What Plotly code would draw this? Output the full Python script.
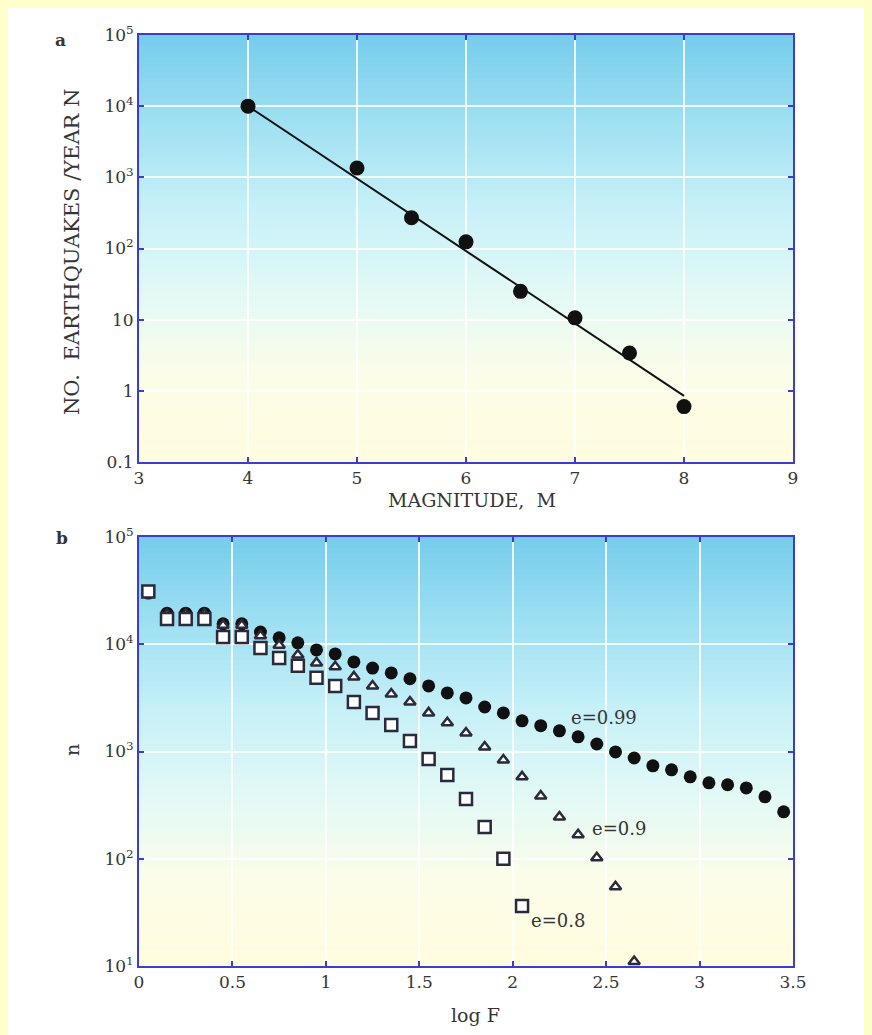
import plotly.graph_objects as go

# ---------------- data ----------------
# panel a
magnitude = [4, 5, 5.5, 6, 6.5, 7, 7.5, 8]
quakes_per_year = [10000, 1350, 270, 124, 25, 10.6, 3.4, 0.6]
fit_magnitude = [4, 8]
fit_quakes = [10000, 0.85]

a_xticks = [3, 4, 5, 6, 7, 8, 9]
a_yticks = [0.1, 1, 10, 100, 1000, 10000, 100000]
a_yticktext = ["0.1", "1", "10", "10<sup>2</sup>", "10<sup>3</sup>", "10<sup>4</sup>", "10<sup>5</sup>"]

# panel b
logF_099 = [0.05, 0.15, 0.25, 0.35, 0.45, 0.55, 0.65, 0.75, 0.85, 0.95, 1.05, 1.15,
            1.25, 1.35, 1.45, 1.55, 1.65, 1.75, 1.85, 1.95, 2.05, 2.15, 2.25, 2.35,
            2.45, 2.55, 2.65, 2.75, 2.85, 2.95, 3.05, 3.15, 3.25, 3.35, 3.45]
n_099 = [30000, 19500, 19500, 19500, 15500, 15500, 13000, 11500, 10300, 8850, 8130, 6840,
         6000, 5400, 4770, 4090, 3515, 3160, 2600, 2290, 1930, 1740, 1560, 1370,
         1175, 990, 870, 735, 675, 580, 510, 490, 457, 378, 274]

logF_09 = [0.05, 0.15, 0.25, 0.35, 0.45, 0.55, 0.65, 0.75, 0.85, 0.95, 1.05, 1.15,
           1.25, 1.35, 1.45, 1.55, 1.65, 1.75, 1.85, 1.95, 2.05, 2.15, 2.25, 2.35,
           2.45, 2.55, 2.65]
n_09 = [30000, 19000, 19000, 19000, 15000, 15000, 12000, 9800, 7940, 6700, 6160, 4960,
        4080, 3440, 2890, 2290, 1850, 1490, 1100, 834, 580, 385, 245, 167,
        102, 54.7, 11]

logF_08 = [0.05, 0.15, 0.25, 0.35, 0.45, 0.55, 0.65, 0.75, 0.85, 0.95, 1.05, 1.15,
           1.25, 1.35, 1.45, 1.55, 1.65, 1.75, 1.85, 1.95, 2.05]
n_08 = [31000, 17200, 17200, 17200, 11700, 11700, 9250, 7450, 6300, 4860, 4080, 2900,
        2290, 1770, 1255, 853, 605, 361, 198, 99.8, 36.3]

b_xticks = [0, 0.5, 1, 1.5, 2, 2.5, 3, 3.5]
b_xticktext = ["0", "0.5", "1", "1.5", "2", "2.5", "3", "3.5"]
b_yticks = [10, 100, 1000, 10000, 100000]
b_yticktext = ["10<sup>1</sup>", "10<sup>2</sup>", "10<sup>3</sup>", "10<sup>4</sup>", "10<sup>5</sup>"]

series_labels = ["e=0.99", "e=0.9", "e=0.8"]

# ---------------- styling ----------------
OFF = 8                      # browser body margin
W, H = 872 - OFF, 1035 - OFF
SERIF = "DejaVu Serif"
TXT = "#353535"
FRAME = "#3c3cd2"

def px(x):
    return (x - OFF) / W

def py(y):
    return 1 - (y - OFF) / H

fig = go.Figure()

# panel a
fig.add_trace(go.Scatter(x=fit_magnitude, y=fit_quakes, mode="lines",
                         line=dict(color="#111111", width=2), xaxis="x", yaxis="y",
                         showlegend=False, hoverinfo="skip"))
fig.add_trace(go.Scatter(x=magnitude, y=quakes_per_year, mode="markers",
                         marker=dict(symbol="circle", size=15, color="#111111"),
                         xaxis="x", yaxis="y", showlegend=False))

# panel b
fig.add_trace(go.Scatter(x=logF_099, y=n_099, mode="markers", name=series_labels[0],
                         marker=dict(symbol="circle", size=13, color="#111111"),
                         xaxis="x2", yaxis="y2", showlegend=False))
fig.add_trace(go.Scatter(x=logF_09, y=n_09, mode="markers", name=series_labels[1],
                         marker=dict(symbol="triangle-up", size=10, color="#ffffff",
                                     line=dict(color="#2a2a3a", width=2.5)),
                         xaxis="x2", yaxis="y2", showlegend=False))
fig.add_trace(go.Scatter(x=logF_08, y=n_08, mode="markers", name=series_labels[2],
                         marker=dict(symbol="square", size=12, color="#ffffff",
                                     line=dict(color="#2a2a3a", width=2.5)),
                         xaxis="x2", yaxis="y2", showlegend=False))

shapes = []

# gradient background (style only)
stops = [(0.0, (255, 252, 222)), (0.2, (252, 253, 232)), (0.4, (225, 249, 246)),
         (0.6, (198, 240, 248)), (0.8, (158, 224, 242)), (1.0, (118, 204, 236))]

def grad(t):
    for i in range(len(stops) - 1):
        t0, c0 = stops[i]
        t1, c1 = stops[i + 1]
        if t0 <= t <= t1:
            f = (t - t0) / (t1 - t0)
            return "rgb(%d,%d,%d)" % tuple(round(c0[k] + f * (c1[k] - c0[k])) for k in range(3))
    return "rgb(%d,%d,%d)" % stops[-1][1]

NS = 80
for xr, yr in (("x", "y"), ("x2", "y2")):
    for i in range(NS):
        shapes.append(dict(type="rect", xref=xr + " domain", yref=yr + " domain",
                           x0=0, x1=1, y0=i / NS, y1=(i + 1) / NS + 0.002,
                           fillcolor=grad((i + 0.5) / NS), line=dict(width=0), layer="below"))

axis_common = dict(showline=True, linecolor=FRAME, linewidth=2, mirror="ticks",
                   ticks="inside", ticklen=5, tickwidth=1.5, tickcolor=FRAME,
                   showgrid=True, gridcolor="rgba(255,255,255,0.85)", gridwidth=1.5,
                   zeroline=False,
                   tickfont=dict(family=SERIF, size=17, color=TXT), automargin=False,
                   tickmode="array")

fig.update_layout(
    width=W, height=H, margin=dict(l=0, r=0, t=0, b=0),
    paper_bgcolor="white", plot_bgcolor="rgba(0,0,0,0)",
    shapes=shapes,
    xaxis=dict(domain=[px(139), px(793)], range=[3, 9], tickvals=a_xticks,
               anchor="y", **axis_common),
    yaxis=dict(domain=[py(462), py(35)], type="log", range=[-1, 5], tickvals=a_yticks,
               ticktext=a_yticktext, anchor="x", **axis_common),
    xaxis2=dict(domain=[px(139), px(793)], range=[0, 3.5], tickvals=b_xticks,
                ticktext=b_xticktext, anchor="y2", **axis_common),
    yaxis2=dict(domain=[py(966), py(537)], type="log", range=[1, 5], tickvals=b_yticks,
                ticktext=b_yticktext, anchor="x2", **axis_common),
)

ann = []
C = dict(xref="paper", yref="paper", xanchor="center", yanchor="middle", showarrow=False)
ann.append(dict(text="NO.  EARTHQUAKES /YEAR N", x=px(72), y=py(252), textangle=-90,
                font=dict(family=SERIF, size=21, color=TXT), **C))
ann.append(dict(text="MAGNITUDE,  M", x=px(472), y=py(500),
                font=dict(family=SERIF, size=19, color=TXT), **C))
ann.append(dict(text="n", x=px(72), y=py(750), textangle=-90,
                font=dict(family=SERIF, size=19, color=TXT), **C))
ann.append(dict(text="log F", x=px(476), y=py(1015),
                font=dict(family=SERIF, size=19, color=TXT), **C))
ann.append(dict(text="<b>a</b>", x=px(60), y=py(40),
                font=dict(family=SERIF, size=17, color=TXT), **C))
ann.append(dict(text="<b>b</b>", x=px(62), y=py(538),
                font=dict(family=SERIF, size=17, color=TXT), **C))

label_pos = [(2.49, 3.32), (2.57, 2.28), (2.24, 1.42)]
for lab, (lx, ly) in zip(series_labels, label_pos):
    ann.append(dict(text=lab, x=lx, y=ly, xref="x2", yref="y2", showarrow=False,
                    xanchor="center", yanchor="middle",
                    font=dict(family=SERIF, size=18, color=TXT)))

fig.update_layout(annotations=ann)

fig.write_html("out.html",
               post_script="document.body.style.background='#ffffcc';")
